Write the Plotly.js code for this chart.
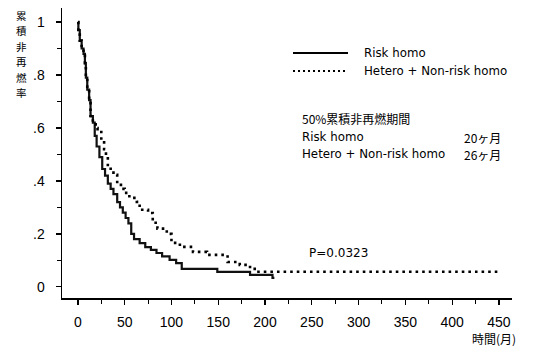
<!DOCTYPE html>
<html><head><meta charset="utf-8">
<script src="https://cdn.plot.ly/plotly-3.0.1.min.js"></script>
<style>html,body{margin:0;padding:0;background:#fff}#c{width:538px;height:346px}</style>
</head><body><div id="c"></div>
<script>
// Risk homo (solid)
var riskT = [0, 0.5, 2, 4, 6, 7.5, 8.5, 10, 12, 13.5, 16, 18, 20, 23, 26, 29, 32, 35, 38, 42, 45, 48, 51, 54, 57, 60, 66, 72, 78, 84, 90, 98, 105, 111, 149, 184, 208, 210];
var riskV = [1.0, 0.97, 0.93, 0.90, 0.88, 0.845, 0.79, 0.745, 0.705, 0.645, 0.62, 0.57, 0.53, 0.49, 0.445, 0.42, 0.39, 0.37, 0.35, 0.32, 0.30, 0.28, 0.26, 0.24, 0.20, 0.18, 0.165, 0.15, 0.14, 0.128, 0.115, 0.102, 0.09, 0.068, 0.057, 0.045, 0.034, 0.034];
// Hetero + Non-risk homo (dotted)
var hetT = [0, 0.5, 2, 4, 6, 7.5, 8.5, 10, 12, 13.5, 16, 19, 21, 25, 28, 30, 32, 35, 38, 42, 46, 50, 55, 63, 66, 75, 80, 85, 95, 100, 109, 123, 138, 160, 173, 181, 189, 450];
var hetV = [1.0, 0.97, 0.93, 0.90, 0.88, 0.845, 0.79, 0.745, 0.705, 0.645, 0.62, 0.60, 0.59, 0.555, 0.52, 0.495, 0.46, 0.44, 0.423, 0.39, 0.37, 0.355, 0.336, 0.321, 0.291, 0.279, 0.242, 0.22, 0.20, 0.166, 0.151, 0.132, 0.121, 0.094, 0.083, 0.075, 0.057, 0.057];

var xTicks = [0, 50, 100, 150, 200, 250, 300, 350, 400, 450];
var yTicks = [0, 0.2, 0.4, 0.6, 0.8, 1];
var yTickText = ["0", ".2", ".4", ".6", ".8", "1"];
var seriesNames = ["Risk homo", "Hetero + Non-risk homo"];
var medianLabels = ["20ヶ月", "26ヶ月"];
var yTitleChars = ["累", "積", "非", "再", "燃", "率"];

var fTick = {family: "Liberation Sans, Arial, sans-serif", size: 14, color: "#000"};
var fTxt = {family: "DejaVu Sans, sans-serif", size: 11.8, color: "#000"};
var fJp = {family: "Noto Sans CJK JP, sans-serif", size: 12, color: "#000"};

var traces = [
  {x: riskT, y: riskV, mode: "lines", line: {shape: "hv", color: "#111", width: 2.2}, name: seriesNames[0], showlegend: false},
  {x: hetT, y: hetV, mode: "lines", line: {shape: "hv", color: "#000", width: 2.6, dash: "2.6px,4px"}, name: seriesNames[1], showlegend: false}
];

function px(x){return (x-62)/450;}
function py(y){return (298-y)/290;}

var annotations = [
  {xref: "paper", yref: "paper", x: px(494), y: py(338), text: "時間(月)", showarrow: false, font: {family: "Noto Sans CJK JP, sans-serif", size: 12, color: "#000"}, xanchor: "center", yanchor: "middle"},
  {xref: "paper", yref: "paper", x: px(362), y: py(53), text: seriesNames[0], showarrow: false, font: fTxt, xanchor: "left", yanchor: "middle"},
  {xref: "paper", yref: "paper", x: px(362), y: py(71), text: seriesNames[1], showarrow: false, font: fTxt, xanchor: "left", yanchor: "middle"},
  {xref: "paper", yref: "paper", x: px(300), y: py(118), text: "50%累積非再燃期間", showarrow: false, font: fJp, xanchor: "left", yanchor: "middle"},
  {xref: "paper", yref: "paper", x: px(300), y: py(137), text: seriesNames[0], showarrow: false, font: fTxt, xanchor: "left", yanchor: "middle"},
  {xref: "paper", yref: "paper", x: px(300), y: py(154), text: seriesNames[1], showarrow: false, font: fTxt, xanchor: "left", yanchor: "middle"},
  {xref: "paper", yref: "paper", x: px(462), y: py(137), text: medianLabels[0], showarrow: false, font: fJp, xanchor: "left", yanchor: "middle"},
  {xref: "paper", yref: "paper", x: px(462), y: py(154), text: medianLabels[1], showarrow: false, font: fJp, xanchor: "left", yanchor: "middle"},
  {xref: "paper", yref: "paper", x: px(338), y: py(253), text: "P=0.0323", showarrow: false, font: {family: "DejaVu Sans, sans-serif", size: 12, color: "#000"}, xanchor: "center", yanchor: "middle"}
];
yTitleChars.forEach(function(ch, i){
  annotations.push({xref: "paper", yref: "paper", x: px(21), y: py(15 + i*15.5), text: ch, showarrow: false, borderpad: 0,
    font: {family: "Noto Sans CJK JP, sans-serif", size: 10.5, color: "#000"}, xanchor: "center", yanchor: "middle"});
});

var layout = {
  width: 538, height: 346,
  margin: {l: 62, r: 26, t: 8, b: 48},
  paper_bgcolor: "#fff", plot_bgcolor: "#fff",
  xaxis: {range: [-17, 464], tickvals: xTicks, ticks: "outside", ticklen: 5, tickwidth: 1.2, tickcolor: "#000",
    showline: true, linecolor: "#000", linewidth: 1.5, showgrid: false, zeroline: false, tickfont: fTick,
    ticklabelstandoff: 6,
    minor: {tickvals: [25,75,125,175,225,275,325,375,425], ticks: "outside", ticklen: 4, tickcolor: "#000", tickwidth: 1}},
  yaxis: {range: [-0.042, 1.053], tickvals: yTicks, ticktext: yTickText, ticks: "outside", ticklen: 5, tickwidth: 1.2, tickcolor: "#000",
    showline: true, linecolor: "#000", linewidth: 1.5, showgrid: false, zeroline: false, tickfont: fTick,
    ticklabelstandoff: 8,
    minor: {tickvals: [0.1,0.3,0.5,0.7,0.9], ticks: "outside", ticklen: 4, tickcolor: "#000", tickwidth: 1}},
  shapes: [
    {type: "line", xref: "paper", yref: "paper", x0: px(293), x1: px(348), y0: py(53), y1: py(53), line: {color: "#000", width: 2}},
    {type: "line", xref: "paper", yref: "paper", x0: px(293), x1: px(348), y0: py(71), y1: py(71), line: {color: "#000", width: 2, dash: "2px,3px"}}
  ],
  annotations: annotations
};
Plotly.newPlot("c", traces, layout, {staticPlot: true, displayModeBar: false});
</script></body></html>
